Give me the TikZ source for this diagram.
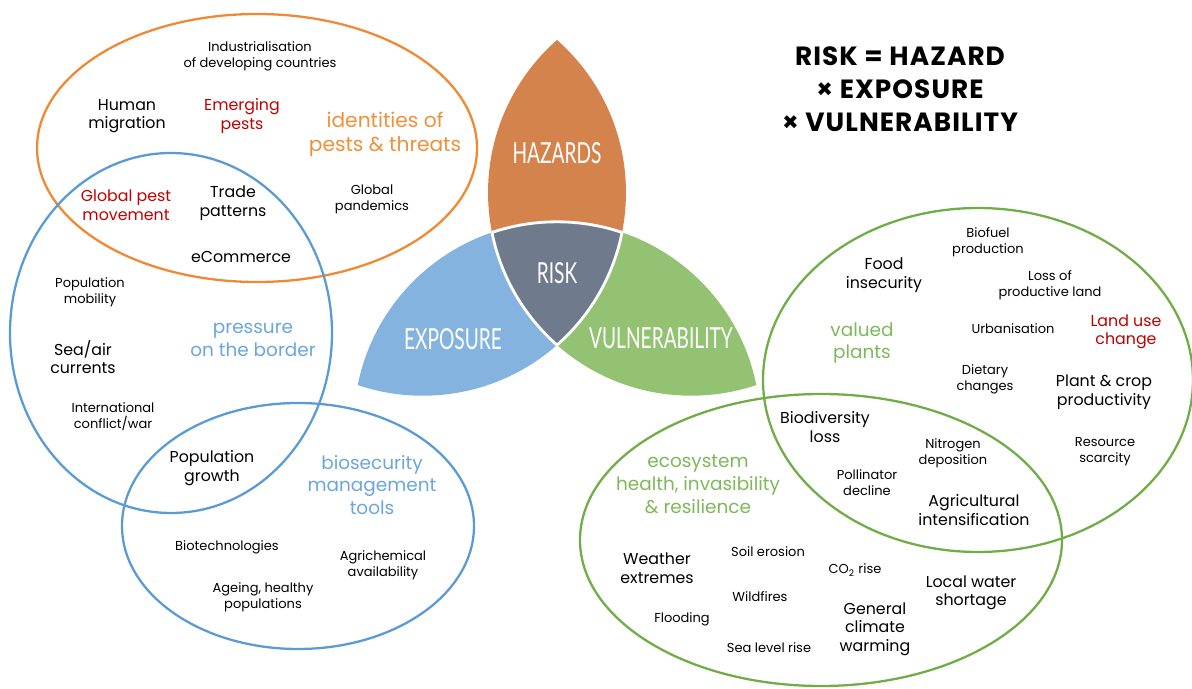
\documentclass[tikz,border=0pt]{standalone}
\usepackage{fontspec}
\setmainfont{Poppins}
\newfontfamily\petalfont[FakeStretch=0.66]{Lato}
\newfontfamily\formulafont[LetterSpace=4]{Poppins}
\usetikzlibrary{calc}
\definecolor{hazardfill}{RGB}{212,131,76}
\definecolor{riskfill}{RGB}{111,123,141}
\definecolor{exposurefill}{RGB}{132,179,223}
\definecolor{vulnfill}{RGB}{147,194,115}
\definecolor{orangeline}{RGB}{239,137,52}
\definecolor{blueline}{RGB}{91,155,213}
\definecolor{greenline}{RGB}{112,173,71}
\definecolor{orangetext}{RGB}{240,144,58}
\definecolor{bluetext}{RGB}{106,166,221}
\definecolor{greentext}{RGB}{125,184,90}
\definecolor{redtext}{RGB}{192,0,0}
\newcommand{\ringellipse}[3]% center, xdim, ydim
{(#1) ellipse (#2 and #3)
}
\newcommand{\venncircle}[1]% center
{(#1) circle (4.064)
}

\begin{document}
\begin{tikzpicture}[
  txt/.style={font=\fontsize{9}{10.5}\selectfont, align=center, inner sep=0pt},
  smalltxt/.style={font=\fontsize{7.4}{9}\selectfont, align=center, inner sep=0pt},
  theme/.style={font=\fontsize{10.5}{13}\selectfont, align=center, inner sep=0pt},
  petal/.style={font=\petalfont\fontsize{16.5}{18}\selectfont, text=white, inner sep=0pt},
  ring/.style={line width=1.3pt}
]
  \useasboundingbox (0,0) rectangle (23.84,13.76);
  \coordinate (O) at (11.14,8.36);
  \coordinate (cl) at ($(O)+(150:3.1)$);
  \coordinate (cr) at ($(O)+(30:3.1)$);
  \coordinate (cb) at ($(O)+(270:3.1)$);
  \begin{scope}
    \clip \venncircle{cl};
    \fill[hazardfill] \venncircle{cr};
  \end{scope}
  \begin{scope}
    \clip \venncircle{cl};
    \fill[exposurefill] \venncircle{cb};
  \end{scope}
  \begin{scope}
    \clip \venncircle{cr};
    \fill[vulnfill] \venncircle{cb};
  \end{scope}
  \begin{scope}
    \clip \venncircle{cl};
    \clip \venncircle{cr};
    \fill[riskfill] \venncircle{cb};
    \draw[white, line width=1.6pt] \venncircle{cb};
  \end{scope}
  \begin{scope}
    \clip \venncircle{cr};
    \clip \venncircle{cb};
    \draw[white, line width=1.6pt] \venncircle{cl};
  \end{scope}
  \begin{scope}
    \clip \venncircle{cl};
    \clip \venncircle{cb};
    \draw[white, line width=1.6pt] \venncircle{cr};
  \end{scope}
  \node[petal] (hazards) at (11.14,10.70) {HAZARDS};
  \node[petal] (risk) at (11.14,8.30) {RISK};
  \node[petal] (exposure) at (9.06,6.98) {EXPOSURE};
  \node[petal] (vulnerability) at (13.22,7.00) {VULNERABILITY};

  \draw[ring, orangeline] \ringellipse{5.14,10.80}{4.40}{2.68};
  \draw[ring, blueline] \ringellipse{3.42,7.10}{3.22}{3.60};
  \draw[ring, blueline] \ringellipse{5.96,3.24}{3.52}{2.46};
  \draw[ring, greenline] \ringellipse{19.56,6.16}{4.30}{3.44};
  \draw[ring, greenline] \ringellipse{16.42,2.96}{4.82}{2.92};

  \node[font=\formulafont\bfseries\fontsize{15}{18.7}\selectfont, align=center] (formula) at (18.00,11.98)
    {RISK = HAZARD\\× EXPOSURE\\× VULNERABILITY};

  \node[smalltxt] (industry) at (5.20,12.64) {Industrialisation\\of developing countries};
  \node[txt] (migration) at (2.54,11.44) {Human\\migration};
  \node[txt, text=redtext] (emerging) at (4.84,11.44) {Emerging\\pests};
  \node[theme, text=orangetext, font=\fontsize{11.5}{13.6}\selectfont] (identities) at (7.70,11.08) {identities of\\pests \& threats};
  \node[smalltxt] (pandemics) at (7.44,9.78) {Global\\pandemics};
  \node[txt, text=redtext] (pestmove) at (2.52,9.66) {Global pest\\movement};
  \node[txt] (trade) at (4.66,9.70) {Trade\\patterns};
  \node[txt] (ecommerce) at (4.82,8.62) {eCommerce};
  \node[smalltxt] (mobility) at (1.80,7.92) {Population\\mobility};
  \node[txt] (currents) at (1.66,6.62) {Sea/air\\currents};
  \node[smalltxt] (conflict) at (2.26,5.42) {International\\conflict/war};
  \node[theme, text=bluetext] (pressure) at (5.06,6.96) {pressure\\on the border};
  \node[txt] (growth) at (4.24,4.40) {Population\\growth};
  \node[theme, text=bluetext] (biosecurity) at (7.44,4.06) {biosecurity\\management\\tools};
  \node[smalltxt] (biotech) at (4.54,2.82) {Biotechnologies};
  \node[smalltxt] (agrichem) at (7.66,2.46) {Agrichemical\\availability};
  \node[smalltxt] (ageing) at (5.26,1.82) {Ageing, healthy\\populations};

  \node[txt] (food) at (17.68,8.26) {Food\\insecurity};
  \node[smalltxt] (biofuel) at (19.76,8.92) {Biofuel\\production};
  \node[smalltxt] (landloss) at (21.00,8.06) {Loss of\\productive land};
  \node[theme, text=greentext] (valued) at (17.24,6.90) {valued\\plants};
  \node[smalltxt] (urban) at (20.26,7.18) {Urbanisation};
  \node[txt, text=redtext] (landuse) at (22.52,7.12) {Land use\\change};
  \node[smalltxt] (dietary) at (19.70,6.18) {Dietary\\changes};
  \node[txt] (productivity) at (22.08,5.92) {Plant \& crop\\productivity};
  \node[smalltxt] (scarcity) at (22.10,4.72) {Resource\\scarcity};
  \node[txt] (biodiversity) at (16.50,5.22) {Biodiversity\\loss};
  \node[smalltxt] (nitrogen) at (19.06,4.70) {Nitrogen\\deposition};
  \node[smalltxt] (pollinator) at (17.34,4.10) {Pollinator\\decline};
  \node[txt] (agri) at (19.48,3.56) {Agricultural\\intensification};

  \node[theme, text=greentext] (ecosystem) at (13.96,4.08) {ecosystem\\health, invasibility\\\& resilience};
  \node[txt] (weather) at (13.14,2.40) {Weather\\extremes};
  \node[smalltxt] (erosion) at (15.36,2.72) {Soil erosion};
  \node[smalltxt] (co2) at (17.10,2.36) {CO\textsubscript{2} rise};
  \node[smalltxt] (wildfires) at (15.20,1.82) {Wildfires};
  \node[smalltxt] (flooding) at (13.64,1.38) {Flooding};
  \node[txt] (water) at (19.42,1.90) {Local water\\shortage};
  \node[txt] (warming) at (17.50,1.18) {General\\climate\\warming};
  \node[smalltxt] (sealevel) at (15.38,0.80) {Sea level rise};
\end{tikzpicture}
\end{document}
